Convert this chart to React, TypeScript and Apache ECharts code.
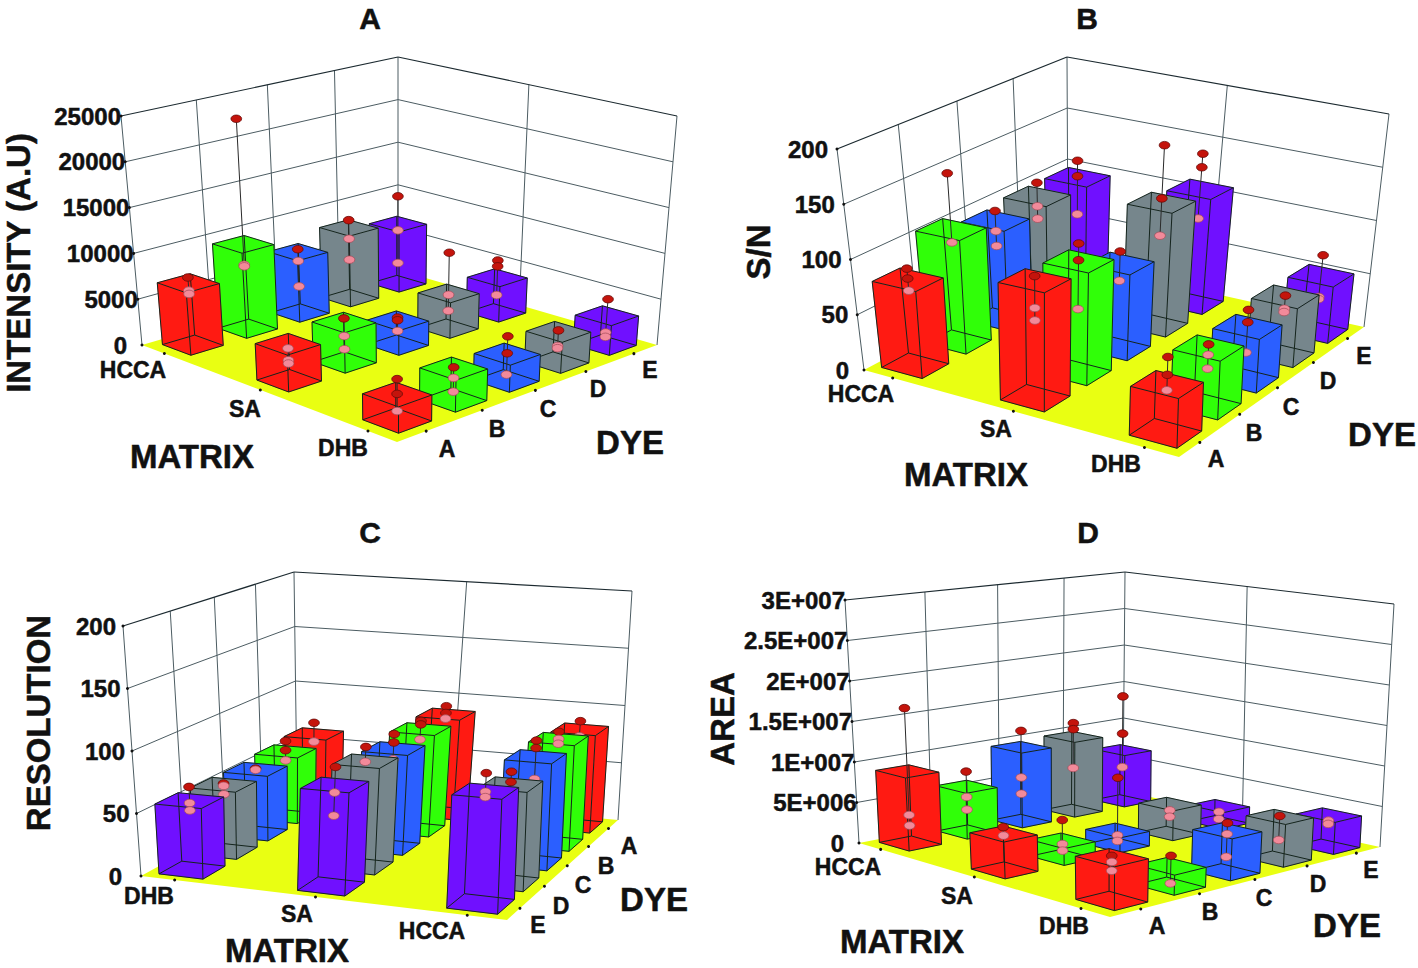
import React, { useEffect, useRef } from 'react'
import * as echarts from 'echarts'

const FONT = '"Liberation Sans", Arial, sans-serif'

const dyeColors: Record<string, string> = { A: '#ff1a12', B: '#30ff08', C: '#2b5fff', D: '#76868c', E: '#7010ff' }

// rows: matrix, columns: dye, in plotted order
const intensityBars = [
  [6750, 9350, 6850, 8000, 6900],
  [3850, 4290, 2650, 3900, 3950],
  [2650, 3280, 2830, 3300, 3210],
]
const intensityPoints = [
  [[7370, 5935, 5575], [23260, 7065, 6900], [7170, 5845, 2980], [8880, 6750, 4365], [10110, 6170, 2385]],
  [[3400, 2150, 1800], [4720, 2820, 1410], [3000, 2700, 1535], [8400, 3730, 1960], [5880, 5220, 1985]],
  [[4210, 2700, 950], [3400, 2300, 870], [4690, 2900, 650], [3440, 1770, 1530], [5000, 1360, 890]],
]
const snBars = [
  [78, 104, 93, 97, 97],
  [103, 100, 78, 115, 109],
  [41, 50, 47, 53, 52],
]
const snPoints = [
  [[88, 79, 68], [156, 92], [102, 83, 69], [110, 87.5, 75.6], [113, 98, 61]],
  [[107, 79, 68], [116, 101, 57], [89, 62], [169, 119, 84], [143, 130, 81]],
  [[64, 49, 36], [53, 44, 32], [62, 51, 24], [54, 42, 39], [71, 32, 30]],
]
const resolutionBars = [
  [56, 55, 54.5, 57, 60],
  [79, 84.5, 82, 86, 87],
  [84.5, 76, 85, 87, 83],
]
const resolutionPoints = [
  [[67, 54, 48], [56, 54, 47], [55, 54], [66, 58, 49], [70, 53]],
  [[93, 73, 55], [96, 84], [94, 87, 73], [93, 90, 77], [94, 88, 83]],
  [[98, 84, 80], [86, 78, 66], [98, 92, 67], [93, 87, 83], [90, 77, 72]],
]
const areaBars = [
  [8.9e6, 5.7e6, 9.5e6, 9.7e6, 6.8e6],
  [4.3e6, 2e6, 1.8e6, 3.7e6, 2.1e6],
  [4.9e6, 2.3e6, 4.9e6, 5.1e6, 3.9e6],
]
const areaPoints = [
  [[16.7e6, 3.5e6, 2.2e6], [7.6e6, 4.4e6, 2.8e6], [11.6e6, 5.6e6, 3.5e6], [11.5e6, 10.7e6, 5.6e6], [14e6, 9e6, 4.5e6]],
  [[5.1e6, 4.1e6], [4.5e6, 1.6e6, 0.8e6], [8.3e6, 1.2e6, 0.5e6], [2.9e6, 2.1e6], [1.35e6, 0.42e6]],
  [[5.1e6, 4.4e6, 3.4e6], [3.5e6, 0.3e6], [5.8e6, 4.5e6, 1.8e6], [5.2e6, 2.3e6], [3.2e6, 2.8e6]],
]

const matrixNames = ['HCCA', 'SA', 'DHB']
const matrixNamesC = ['DHB', 'SA', 'HCCA']
const dyeNames = ['A', 'B', 'C', 'D', 'E']
const dyeNamesC = ['E', 'D', 'C', 'B', 'A']
const intensityTicks = [0, 5000, 10000, 15000, 20000, 25000]
const intensityLabels = ['0', '5000', '10000', '15000', '20000', '25000']
const snTicks = [0, 50, 100, 150, 200]
const snLabels = ['0', '50', '100', '150', '200']
const areaTicks = [0, 5e6, 1e7, 1.5e7, 2e7, 2.5e7, 3e7]
const areaLabels = ['0', '5E+006', '1E+007', '1.5E+007', '2E+007', '2.5E+007', '3E+007']

type Pt = [number, number]
type Quad = [Pt, Pt, Pt, Pt] // left, front, right, back

const panels = [
  {
    title: 'A', yName: 'INTENSITY (A.U)', matrices: matrixNames, dyes: dyeNames,
    bars: intensityBars, points: intensityPoints, ticks: intensityTicks, labels: intensityLabels,
    floor: [[142, 345], [397, 442], [657, 345], [398, 270]] as Quad,
    top: [[121, 116], [397, 192], [677, 116], [398, 57]] as Quad,
    du: 0.125, dv: 0.115, gap: 0, zeroGap: -15,
    titlePos: [370, 18], yPos: [18, 263], matrixPos: [192, 456], dyePos: [630, 442],
    matrixAt: [[133, 370], [245, 409], [343, 448]], dyeAt: [[447, 449], [497, 429], [548, 409], [598, 389], [650, 370]],
  },
  {
    title: 'B', yName: 'S/N', matrices: matrixNames, dyes: dyeNames,
    bars: snBars, points: snPoints, ticks: snTicks, labels: snLabels,
    floor: [[864, 370], [1179, 457], [1364, 327], [1068, 261]] as Quad,
    top: [[837, 149], [1186, 212], [1389, 114], [1067, 57]] as Quad,
    du: 0.14, dv: 0.12, gap: -9, zeroGap: -15,
    titlePos: [1087, 18], yPos: [758, 252], matrixPos: [966, 474], dyePos: [1382, 434],
    matrixAt: [[861, 394], [996, 429], [1116, 464]], dyeAt: [[1216, 459], [1254, 433], [1291, 407], [1328, 381], [1364, 356]],
  },
  {
    title: 'C', yName: 'RESOLUTION', matrices: matrixNamesC, dyes: dyeNamesC,
    bars: resolutionBars, points: resolutionPoints, ticks: snTicks, labels: snLabels,
    floor: [[141, 876], [507, 920], [618, 820], [297, 790]] as Quad,
    top: [[123, 626], [516, 645], [632, 591], [294, 572]] as Quad,
    du: 0.13, dv: 0.13, gap: -7, zeroGap: -19,
    titlePos: [370, 532], yPos: [38, 723], matrixPos: [287, 950], dyePos: [654, 899],
    matrixAt: [[149, 896], [297, 914], [432, 931]], dyeAt: [[538, 925], [561, 906], [583, 885], [606, 866], [629, 846]],
  },
  {
    title: 'D', yName: 'AREA', matrices: matrixNames, dyes: dyeNames,
    bars: areaBars, points: areaPoints, ticks: areaTicks, labels: areaLabels,
    floor: [[859, 843], [1110, 917], [1380, 847], [1123, 791]] as Quad,
    top: [[845, 600], [1110, 647], [1394, 604], [1125, 572]] as Quad,
    du: 0.135, dv: 0.11, gap: 0, zeroGap: -15,
    titlePos: [1088, 532], yPos: [722, 719], matrixPos: [902, 941], dyePos: [1347, 925],
    matrixAt: [[848, 867], [957, 896], [1064, 926]], dyeAt: [[1157, 926], [1210, 912], [1264, 898], [1318, 884], [1371, 870]],
  },
]

// unit square -> quad, (0,0)=left (1,0)=front (1,1)=right (0,1)=back
function homography(q: Quad) {
  const [[x0, y0], [x1, y1], [x2, y2], [x3, y3]] = q
  const dx1 = x1 - x2, dx2 = x3 - x2, sx = x0 - x1 + x2 - x3
  const dy1 = y1 - y2, dy2 = y3 - y2, sy = y0 - y1 + y2 - y3
  const det = dx1 * dy2 - dx2 * dy1
  const g = (sx * dy2 - dx2 * sy) / det
  const h = (dx1 * sy - sx * dy1) / det
  const a = x1 - x0 + g * x1, b = x3 - x0 + h * x3
  const d = y1 - y0 + g * y1, e = y3 - y0 + h * y3
  return (u: number, v: number): Pt => {
    const w = g * u + h * v + 1
    return [(a * u + b * v + x0) / w, (d * u + e * v + y0) / w]
  }
}

function projector(floor: Quad, top: Quad) {
  const hf = homography(floor), ht = homography(top)
  return (u: number, v: number, z: number): Pt => {
    const a = hf(u, v), b = ht(u, v)
    return [a[0] + (b[0] - a[0]) * z, a[1] + (b[1] - a[1]) * z]
  }
}

const line = (a: Pt, b: Pt, color: string, width = 1) => ({
  type: 'line', shape: { x1: a[0], y1: a[1], x2: b[0], y2: b[1] }, style: { stroke: color, lineWidth: width, fill: 'none' },
})
const dot = (p: Pt, r = 1.5) => ({ type: 'circle', shape: { cx: p[0], cy: p[1], r }, style: { fill: '#111' } })
const textStyle = (text: string, size: number, align: string) => ({
  text, fill: '#111', stroke: '#111', lineWidth: 0.5, fontFamily: FONT, fontWeight: 'bold', fontSize: size, align, verticalAlign: 'middle',
})
const label = (text: string, x: number, y: number, size: number, align = 'center') => ({
  type: 'text', x, y, style: textStyle(text, size, align),
})

const GRID = '#4c5c62'
const EDGE = '#14241c'
const matrixPos = (m: number) => (m + 0.25) / 2.5

function buildOption(): any {
  const grid: any[] = [], xAxis: any[] = [], yAxis: any[] = [], series: any[] = [], graphic: any[] = []

  panels.forEach((p, i) => {
    const proj = projector(p.floor, p.top)
    const last = p.ticks.length - 1
    grid.push({ left: i % 2 ? 720 : 10, top: i < 2 ? 40 : 550, width: 600, height: 400 })
    xAxis.push({ type: 'category', gridIndex: i, data: p.dyes, show: false })
    yAxis.push({ type: 'value', gridIndex: i, min: 0, max: p.ticks[last], show: false })

    const zFrac = (api: any, cs: any, val: number) => (cs.y + cs.height - api.coord([0, val])[1]) / cs.height

    // walls and floor, one item per tick of the value axis
    series.push({
      type: 'custom', xAxisIndex: i, yAxisIndex: i, silent: true, z: 1,
      data: p.ticks.map((t, k) => [0, t, k]),
      encode: { x: 0, y: 1 },
      renderItem: (params: any, api: any) => {
        const cs = params.coordSys
        const k = api.value(2)
        const z = zFrac(api, cs, api.value(1))
        const kids: any[] = []
        if (k === 0) {
          kids.push({ type: 'polygon', shape: { points: p.floor }, style: { fill: '#e9ff12' } })
          kids.push(line(proj(0, 0, 0), proj(0, 0, 1), GRID), line(proj(0, 1, 0), proj(0, 1, 1), GRID), line(proj(1, 1, 0), proj(1, 1, 1), GRID))
          ;[0.25, 0.5, 0.75].forEach(v => kids.push(line(proj(0, v, 0), proj(0, v, 1), GRID)))
          kids.push(line(proj(0.5, 1, 0), proj(0.5, 1, 1), GRID))
          p.matrices.forEach((_, m) => kids.push(dot(proj(matrixPos(m), 0, 0))))
          p.dyes.forEach((_, d) => kids.push(dot(proj(1, (d + 0.5) / 5, 0))))
          p.matrices.forEach((m, j) => kids.push(label(m, p.matrixAt[j][0], p.matrixAt[j][1], 23)))
          p.dyes.forEach((d, j) => kids.push(label(d, p.dyeAt[j][0], p.dyeAt[j][1], 23)))
        }
        const a = proj(0, 0, z), b = proj(0, 1, z), c = proj(1, 1, z)
        const col = k === last ? '#1c2a30' : GRID
        if (k > 0) kids.push(line(a, b, col, k === last ? 1.2 : 1), line(b, c, col, k === last ? 1.2 : 1))
        kids.push(dot(a))
        kids.push(label(p.labels[k], a[0] + (k === 0 ? p.zeroGap : p.gap), a[1], 24, 'right'))
        return { type: 'group', children: kids }
      },
    })

    // bars back to front, each with its measured points
    const rows: any[] = []
    p.bars.forEach((row, m) => {
      for (let d = row.length - 1; d >= 0; d--) {
        const pts = p.points[m][d]
        rows.push([d, row[d], m, pts[0], pts[1], pts.length > 2 ? pts[2] : null])
      }
    })
    series.push({
      type: 'custom', xAxisIndex: i, yAxisIndex: i, silent: true, z: 2,
      data: rows,
      encode: { x: 0, y: 1 },
      renderItem: (params: any, api: any) => {
        const cs = params.coordSys
        const d = api.value(0), m = api.value(2), h = api.value(1)
        const u = matrixPos(m)
        const v = (api.coord([d, 0])[0] - cs.x) / cs.width
        const zt = zFrac(api, cs, h)
        const u0 = u - p.du / 2, u1 = u + p.du / 2, v0 = v - p.dv / 2, v1 = v + p.dv / 2
        const fill = dyeColors[p.dyes[d]]
        const face = (pts: Pt[]) => ({ type: 'polygon', shape: { points: pts }, style: { fill, stroke: fill, lineWidth: 0.5 } })
        const kids: any[] = [
          face([proj(u1, v0, 0), proj(u1, v1, 0), proj(u1, v1, zt), proj(u1, v0, zt)]),
          face([proj(u0, v0, 0), proj(u1, v0, 0), proj(u1, v0, zt), proj(u0, v0, zt)]),
          face([proj(u0, v0, zt), proj(u1, v0, zt), proj(u1, v1, zt), proj(u0, v1, zt)]),
        ]
        const corners: [number, number][] = [[u0, v0], [u1, v0], [u1, v1], [u0, v1]]
        corners.forEach((q, j) => {
          const n = corners[(j + 1) % 4]
          kids.push(line(proj(q[0], q[1], 0), proj(n[0], n[1], 0), EDGE))
          kids.push(line(proj(q[0], q[1], zt), proj(n[0], n[1], zt), EDGE))
          kids.push(line(proj(q[0], q[1], 0), proj(q[0], q[1], zt), EDGE))
        })
        const vals = [api.value(3), api.value(4), api.value(5)].filter((x: number) => x === x && x != null)
        const zs = vals.map((x: number) => zFrac(api, cs, x))
        kids.push(line(proj(u, v, Math.min(...zs)), proj(u, v, Math.max(...zs)), '#2a2a2a', 1))
        vals.forEach((x: number, j: number) => {
          const pos = proj(u, v, zs[j])
          kids.push({
            type: 'ellipse', shape: { cx: pos[0], cy: pos[1], rx: 5.4, ry: 3.8 },
            style: x > h ? { fill: '#c4140c', stroke: '#5a0a08', lineWidth: 0.7 } : { fill: '#f28a9a', stroke: '#a04a58', lineWidth: 0.7 },
          })
        })
        return { type: 'group', children: kids }
      },
    })

    const txt = (text: string, pos: number[], size: number, rotation = 0) => ({
      type: 'text', x: pos[0], y: pos[1], rotation, z: 10, style: textStyle(text, size, 'center'),
    })
    graphic.push(txt(p.title, p.titlePos, 30), txt(p.yName, p.yPos, 33, Math.PI / 2), txt('MATRIX', p.matrixPos, 33), txt('DYE', p.dyePos, 33))
  })

  return { animation: false, backgroundColor: '#fff', grid, xAxis, yAxis, series, graphic }
}

export default function App() {
  const ref = useRef<HTMLDivElement | null>(null)

  useEffect(() => {
    if (!ref.current) return
    const chart = echarts.init(ref.current, undefined, { renderer: 'svg' })
    chart.setOption(buildOption())
    return () => { chart.dispose() }
  }, [])

  return <div ref={ref} style={{ position: 'absolute', left: 0, top: 0, width: 1418, height: 968 }} />
}
